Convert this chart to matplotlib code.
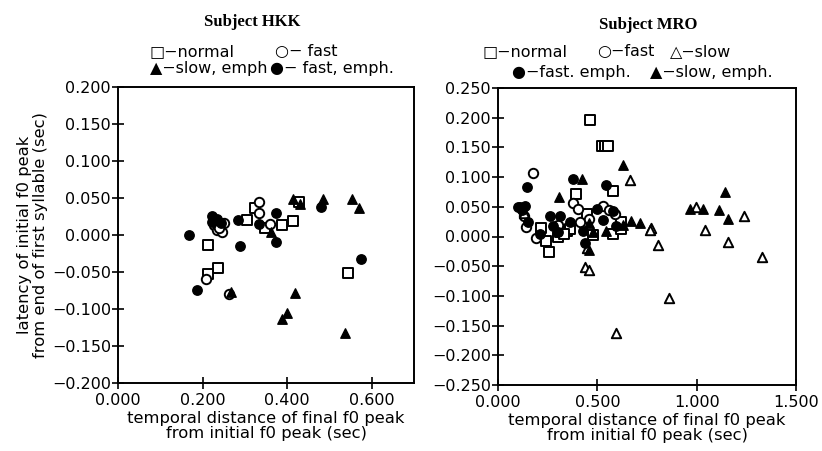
import matplotlib
matplotlib.use("Agg")
import matplotlib.pyplot as plt

# ---------------- data: Subject HKK ----------------
hkk_normal_x = [0.212, 0.237, 0.212, 0.305, 0.323, 0.347, 0.389, 0.415, 0.427, 0.545]
hkk_normal_y = [-0.014, -0.045, -0.053, 0.020, 0.036, 0.009, 0.0135, 0.019, 0.045, -0.051]
hkk_fast_x = [0.333, 0.333, 0.359, 0.209, 0.263, 0.227, 0.250, 0.235, 0.247, 0.240]
hkk_fast_y = [0.045, 0.030, 0.015, -0.059, -0.080, 0.0135, 0.016, 0.007, 0.0045, 0.010]
hkk_fastemph_x = [0.169, 0.223, 0.235, 0.243, 0.222, 0.284, 0.288, 0.333, 0.373, 0.373, 0.479, 0.574, 0.187]
hkk_fastemph_y = [0.000, 0.026, 0.022, 0.016, 0.017, 0.020, -0.015, 0.015, 0.030, -0.010, 0.038, -0.032, -0.074]
hkk_slowemph_x = [0.415, 0.485, 0.554, 0.570, 0.430, 0.363, 0.267, 0.419, 0.399, 0.389, 0.538]
hkk_slowemph_y = [0.048, 0.049, 0.048, 0.037, 0.042, 0.004, -0.077, -0.078, -0.106, -0.113, -0.132]

# ---------------- data: Subject MRO ----------------
mro_normal_x = [0.462, 0.525, 0.540, 0.555, 0.395, 0.580, 0.214, 0.240, 0.258, 0.303,
                0.345, 0.362, 0.446, 0.479, 0.580, 0.620, 0.620, 0.310, 0.330]
mro_normal_y = [0.196, 0.152, 0.152, 0.152, 0.072, 0.076, 0.014, -0.007, -0.026, -0.001,
                0.010, 0.013, 0.038, 0.002, 0.004, 0.013, 0.024, 0.008, 0.004]
mro_fast_x = [0.174, 0.378, 0.404, 0.141, 0.191, 0.529, 0.588, 0.412, 0.130, 0.300, 0.460, 0.560]
mro_fast_y = [0.107, 0.057, 0.047, 0.016, -0.002, 0.052, 0.038, 0.024, 0.035, 0.020, 0.030, 0.045]
mro_slow_x = [0.663, 0.995, 1.040, 1.159, 1.236, 1.330, 0.861, 0.596, 0.806, 0.772,
              0.764, 0.437, 0.459, 0.450, 0.130]
mro_slow_y = [0.095, 0.050, 0.011, -0.009, 0.034, -0.034, -0.103, -0.163, -0.014, 0.015,
              0.011, -0.052, -0.057, -0.020, 0.040]
mro_fastemph_x = [0.144, 0.375, 0.546, 0.111, 0.136, 0.261, 0.312, 0.102, 0.152, 0.278,
                  0.303, 0.437, 0.429, 0.529, 0.496, 0.580, 0.596, 0.362, 0.211, 0.120]
mro_fastemph_y = [0.083, 0.096, 0.087, 0.049, 0.052, 0.034, 0.034, 0.049, 0.024, 0.018,
                  0.007, -0.011, 0.010, 0.027, 0.046, 0.043, 0.018, 0.024, 0.005, 0.045]
mro_slowemph_x = [0.424, 0.630, 0.308, 0.965, 1.032, 1.112, 1.141, 1.158, 0.668, 0.717,
                  0.479, 0.460, 0.459, 0.546, 0.630]
mro_slowemph_y = [0.096, 0.120, 0.067, 0.046, 0.046, 0.044, 0.075, 0.029, 0.026, 0.022,
                  0.007, 0.022, -0.023, 0.010, 0.020]

hkk_xticks = [0.0, 0.2, 0.4, 0.6]
hkk_yticks = [-0.2, -0.15, -0.1, -0.05, 0.0, 0.05, 0.1, 0.15, 0.2]
mro_xticks = [0.0, 0.5, 1.0, 1.5]
mro_yticks = [-0.25, -0.2, -0.15, -0.1, -0.05, 0.0, 0.05, 0.1, 0.15, 0.2, 0.25]

plt.rcParams['font.family'] = ['DejaVu Sans']
fig = plt.figure(figsize=(8.22, 4.51), dpi=100)
W, H = 822, 451

def axes_px(x0, x1, y0, y1):
    return fig.add_axes([x0 / W, 1 - y1 / H, (x1 - x0) / W, (y1 - y0) / H])

axL = axes_px(118, 414, 87, 383)
axR = axes_px(498, 796, 88, 385)

ms = 46
def open_sc(ax, x, y, m):
    ax.scatter(x, y, s=ms, marker=m, facecolors='white', edgecolors='black', linewidths=1.4, zorder=3)
def fill_sc(ax, x, y, m):
    ax.scatter(x, y, s=ms, marker=m, facecolors='black', edgecolors='black', linewidths=1.0, zorder=3)

open_sc(axL, hkk_normal_x, hkk_normal_y, 's')
open_sc(axL, hkk_fast_x, hkk_fast_y, 'o')
fill_sc(axL, hkk_fastemph_x, hkk_fastemph_y, 'o')
fill_sc(axL, hkk_slowemph_x, hkk_slowemph_y, '^')

open_sc(axR, mro_normal_x, mro_normal_y, 's')
open_sc(axR, mro_fast_x, mro_fast_y, 'o')
open_sc(axR, mro_slow_x, mro_slow_y, '^')
fill_sc(axR, mro_fastemph_x, mro_fastemph_y, 'o')
fill_sc(axR, mro_slowemph_x, mro_slowemph_y, '^')

tick_fs = 11.5
lab_fs = 11.8
for ax, xt, yt, xl, yl in [(axL, hkk_xticks, hkk_yticks, (0, 0.7), (-0.2, 0.2)),
                           (axR, mro_xticks, mro_yticks, (0, 1.5), (-0.25, 0.25))]:
    ax.set_xlim(*xl)
    ax.set_ylim(*yl)
    ax.set_xticks(xt)
    ax.set_yticks(yt)
    ax.set_xticklabels([f"{v:.3f}" for v in xt], fontsize=tick_fs)
    ax.set_yticklabels([f"{v:.3f}".replace('-', '\u2212') for v in yt], fontsize=tick_fs)
    ax.tick_params(direction='inout', length=8, width=1.2, pad=1)
    ax.tick_params(axis='x', pad=3)
    for s in ax.spines.values():
        s.set_linewidth(1.4)
    ax.set_xlabel("temporal distance of final f0 peak\nfrom initial f0 peak (sec)",
                  fontsize=lab_fs, linespacing=1.05, labelpad=2)

axL.set_ylabel("latency of initial f0 peak\nfrom end of first syllable (sec)",
               fontsize=lab_fs, linespacing=1.05, labelpad=3)

# titles
fig.text(252 / W, 1 - 22 / H, "Subject HKK", family='Liberation Serif', weight='bold',
         fontsize=12, ha='center', va='center')
fig.text(648 / W, 1 - 25 / H, "Subject MRO", family='Liberation Serif', weight='bold',
         fontsize=12, ha='center', va='center')

# legends (as text)
lfs = 11.5
fig.text(150 / W, 1 - 52 / H, "\u25a1\u2212normal", fontsize=lfs, ha='left', va='center')
fig.text(275 / W, 1 - 52 / H, "\u25cb\u2212 fast", fontsize=lfs, ha='left', va='center')
fig.text(150 / W, 1 - 69 / H, "\u25b2\u2212slow, emph", fontsize=lfs, ha='left', va='center')
fig.text(270 / W, 1 - 69 / H, "\u25cf\u2212 fast, emph.", fontsize=lfs, ha='left', va='center')

fig.text(483 / W, 1 - 52 / H, "\u25a1\u2212normal", fontsize=lfs, ha='left', va='center')
fig.text(597 / W, 1 - 52 / H, "\u25cb\u2212fast", fontsize=lfs, ha='left', va='center')
fig.text(670 / W, 1 - 52 / H, "\u25b3\u2212slow", fontsize=lfs, ha='left', va='center')
fig.text(512 / W, 1 - 72 / H, "\u25cf\u2212fast. emph.", fontsize=lfs, ha='left', va='center')
fig.text(650 / W, 1 - 72 / H, "\u25b2\u2212slow, emph.", fontsize=lfs, ha='left', va='center')

fig.savefig("out.png", dpi=100)
